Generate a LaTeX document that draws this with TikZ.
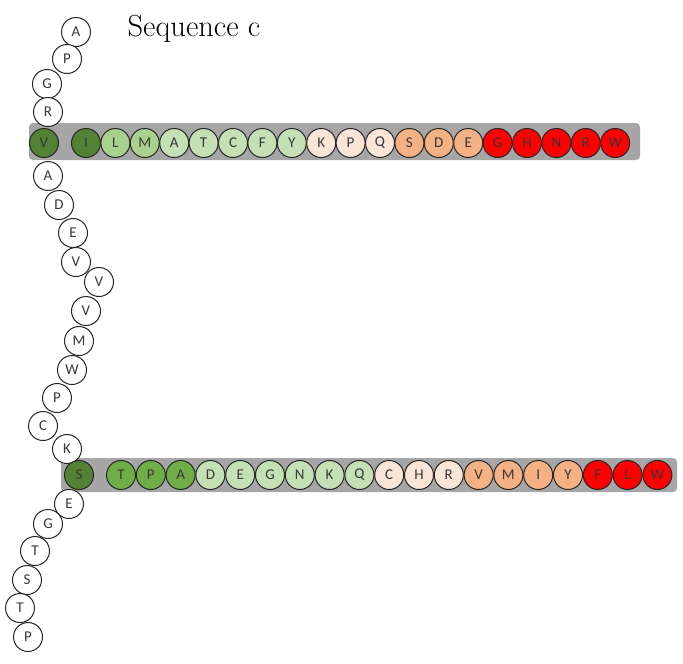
\documentclass[tikz,border=0pt]{standalone}
\usepackage{fontspec}
\newfontfamily\lett{Carlito}
\definecolor{dkg}{HTML}{548235}
\definecolor{mg}{HTML}{70AD47}
\definecolor{lmg}{HTML}{A9D18E}
\definecolor{ltg}{HTML}{C5E0B4}
\definecolor{pch}{HTML}{FBE5D6}
\definecolor{org}{HTML}{F4B183}
\definecolor{rd}{HTML}{FF0000}
\definecolor{barg}{HTML}{A6A6A6}
\begin{document}
\begin{tikzpicture}[x=1pt,y=-1pt,
  aa/.style={circle,draw=black!85,line width=1pt,minimum size=29pt,inner sep=0pt,
    font=\lett\fontsize{15}{15}\selectfont,text=black!78,fill=white},
  bar/.style={fill=barg,rounded corners=4pt}]
\useasboundingbox (0,0) rectangle (683,664);
\node[anchor=base,font=\fontsize{30.5}{32}\selectfont] (title) at (194,36) {Sequence c};
% bars
\fill[bar] (29,123) rectangle (640,160);
\fill[bar] (61,458) rectangle (677,492);
% top chain
\foreach \x/\y/\l [count=\i] in {76/32/A,67/59/P,47/84/G,48/112/R}
  \node[aa] (ua\i) at (\x,\y) {\l};
\node[aa,fill=dkg] (vj) at (44,143) {V};
% top row
\foreach \l/\c [count=\i from 0] in {I/dkg,L/lmg,M/lmg,A/ltg,T/ltg,C/ltg,F/ltg,Y/ltg,K/pch,P/pch,Q/pch,S/org,D/org,E/org,G/rd,H/rd,N/rd,R/rd,W/rd}
  \node[aa,fill=\c] (tr\i) at ({86+29.4*\i},143) {\l};
% middle chain
\foreach \x/\y/\l [count=\i] in {48/176/A,59/205/D,73/233/E,76/262/V,99/282/V,86/311/V,79/341/M,72/370/W,57/398/P,43/426/C,67/449/K}
  \node[aa] (mc\i) at (\x,\y) {\l};
\node[aa,fill=dkg] (sj) at (79,475) {S};
% bottom row
\foreach \l/\c [count=\i from 0] in {T/mg,P/mg,A/mg,D/ltg,E/ltg,G/ltg,N/ltg,K/ltg,Q/ltg,C/pch,H/pch,R/pch,V/org,M/org,I/org,Y/org,F/rd,L/rd,W/rd}
  \node[aa,fill=\c] (br\i) at ({121+29.8*\i},475) {\l};
% lower chain
\foreach \x/\y/\l [count=\i] in {69/504/E,48/524/G,35/551/T,27/580/S,20/608/T,28/637/P}
  \node[aa] (lc\i) at (\x,\y) {\l};
\end{tikzpicture}
\end{document}
